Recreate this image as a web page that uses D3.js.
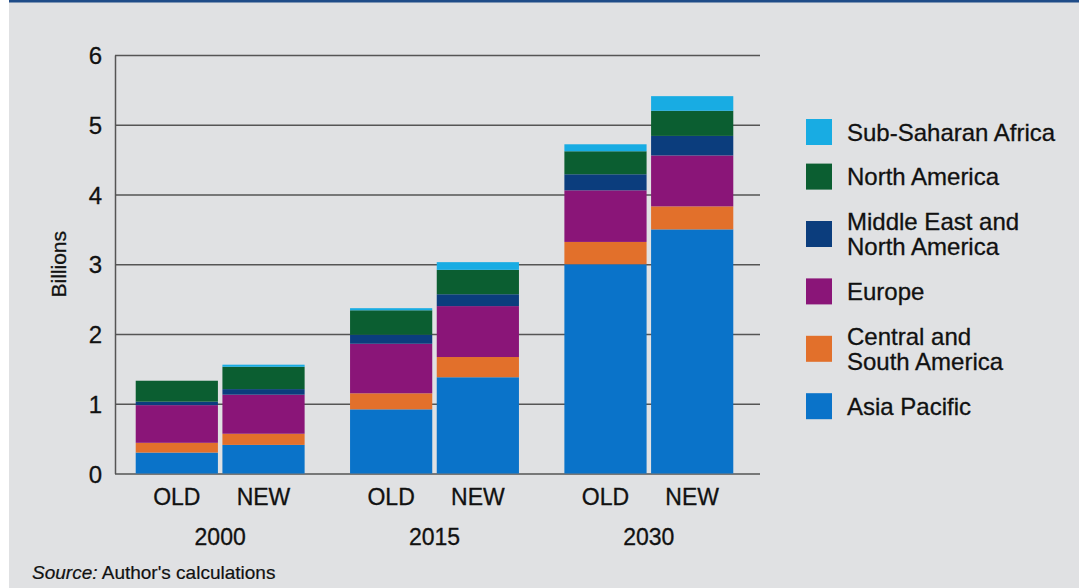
<!DOCTYPE html>
<html>
<head>
<meta charset="utf-8">
<script src="https://cdn.jsdelivr.net/npm/d3@7"></script>
<style>
  html, body { margin: 0; padding: 0; background: #fff; }
  #chart-area { width: 1079px; height: 588px; }
  text { font-family: "Liberation Sans", Arial, Helvetica, sans-serif; fill: #111; stroke: #111; stroke-width: 0.3px; }
</style>
</head>
<body>
<div id="chart-area"></div>
<script>
// groups and bars
const years = ["2000", "2015", "2030"]
const versions = ["OLD", "NEW"]

// series, bottom to top of each stack
const regions = ["Asia Pacific", "Central and South America", "Europe", "Middle East and North America", "North America", "Sub-Saharan Africa"]
const regionLabels = [["Asia Pacific"], ["Central and", "South America"], ["Europe"], ["Middle East and", "North America"], ["North America"], ["Sub-Saharan Africa"]]
const colors = ["#0a73c9", "#e2702b", "#8a1578", "#0b3d7d", "#0b5e31", "#18ace3"]

// values in billions, order: 2000 OLD, 2000 NEW, 2015 OLD, 2015 NEW, 2030 OLD, 2030 NEW
const asiaPacific = [0.30, 0.41, 0.92, 1.38, 3.00, 3.50]
const centralSouthAmerica = [0.14, 0.16, 0.23, 0.29, 0.32, 0.33]
const europe = [0.54, 0.56, 0.71, 0.73, 0.74, 0.73]
const middleEast = [0.05, 0.08, 0.13, 0.17, 0.23, 0.28]
const northAmerica = [0.30, 0.32, 0.35, 0.35, 0.33, 0.36]
const subSaharanAfrica = [0.00, 0.03, 0.03, 0.11, 0.10, 0.21]

const yTicks = [0, 1, 2, 3, 4, 5, 6]

const seriesValues = [asiaPacific, centralSouthAmerica, europe, middleEast, northAmerica, subSaharanAfrica]

const rows = []
years.forEach((yr, i) => {
   versions.forEach((v, j) => {
      const row = { year: yr, version: v }
      regions.forEach((r, k) => { row[r] = seriesValues[k][i * 2 + j] })
      rows.push(row)
   })
})

const w = 1079
const h = 588
const plotLeft = 115, plotRight = 760, plotTop = 55, plotBottom = 473.5

const svg = d3.select("#chart-area")
   .append("svg")
   .attr("width", w)
   .attr("height", h)

// panel background + top rule
svg.append("rect").attr("x", 9).attr("y", 0).attr("width", w - 9).attr("height", h).attr("fill", "#e0e1e3")
svg.append("rect").attr("x", 9).attr("y", 0).attr("width", w - 9).attr("height", 2.5).attr("fill", "#1f4c88")

const x0 = d3.scaleBand().domain(years).range([plotLeft - 2, plotRight - 4]).padding(0)
const x1 = d3.scaleBand().domain(versions).range([0, x0.bandwidth()]).paddingInner(0.052).paddingOuter(0.262)
const y = d3.scaleLinear().domain([0, 6]).range([plotBottom, plotTop])

const yAxis = d3.axisLeft(y)
   .tickValues(yTicks)
   .tickSize(-(plotRight - plotLeft))
   .tickSizeOuter(0)
   .tickPadding(13)
   .tickFormat(d3.format("d"))

const gy = svg.append("g")
   .attr("transform", `translate(${plotLeft},0)`)
   .call(yAxis)
gy.selectAll(".tick line").attr("stroke", "#555").attr("stroke-width", 1.5)
gy.select(".domain").attr("stroke", "#555").attr("stroke-width", 1.5)
gy.selectAll(".tick text").style("font-size", "24px").attr("fill", "#111").attr("dy", "0.36em")

const stack = d3.stack().keys(regions)(rows)

svg.append("g")
   .selectAll("g")
   .data(stack)
   .enter()
   .append("g")
   .attr("fill", (d, i) => colors[i])
   .selectAll("rect")
   .data(d => d)
   .enter()
   .append("rect")
   .attr("x", d => x0(d.data.year) + x1(d.data.version))
   .attr("y", d => y(d[1]))
   .attr("width", x1.bandwidth())
   .attr("height", d => y(d[0]) - y(d[1]))

// x labels
rows.forEach(r => {
   svg.append("text")
      .attr("x", x0(r.year) + x1(r.version) + x1.bandwidth() / 2)
      .attr("y", 505)
      .attr("text-anchor", "middle")
      .style("font-size", "23px")
      .text(r.version)
})
svg.selectAll(".year")
   .data(years)
   .enter()
   .append("text")
   .attr("class", "year")
   .attr("x", d => x0(d) + x0.bandwidth() / 2)
   .attr("y", 545)
   .attr("text-anchor", "middle")
   .style("font-size", "23px")
   .text(d => d)

svg.append("text")
   .attr("transform", `translate(66,${(plotTop + plotBottom) / 2}) rotate(-90)`)
   .attr("text-anchor", "middle")
   .style("font-size", "21px")
   .text("Billions")

// legend, top item first
const legend = svg.append("g")
const lineH = 25.6, gap = 19
let cy = 132 - lineH / 2
d3.range(regions.length - 1, -1, -1).forEach((k, n) => {
   const lines = regionLabels[k]
   const itemH = lines.length * lineH
   if (n > 0) cy += gap
   const c = cy + itemH / 2
   legend.append("rect")
      .attr("x", 806)
      .attr("y", c - 13)
      .attr("width", 26)
      .attr("height", 26)
      .attr("fill", colors[k])
   lines.forEach((t, li) => {
      legend.append("text")
         .attr("x", 847)
         .attr("y", c + (li - (lines.length - 1) / 2) * lineH + 8.5)
         .style("font-size", "24px")
         .text(t)
   })
   cy += itemH
})

const src = svg.append("text")
   .attr("x", 32)
   .attr("y", 579)
   .style("font-size", "19px")
   .style("stroke-width", "0.2px")
src.append("tspan").style("font-style", "italic").text("Source:")
src.append("tspan").text(" Author's calculations")
</script>
</body>
</html>
